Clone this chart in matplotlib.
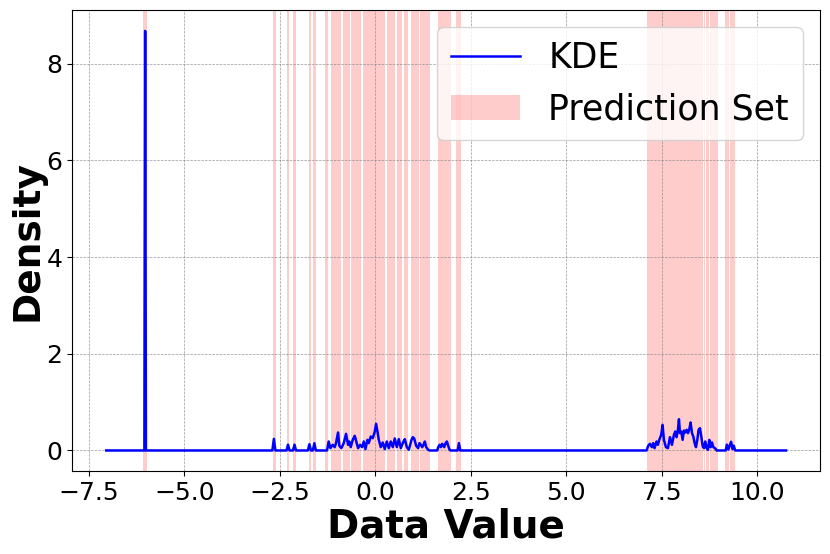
import numpy as np
import matplotlib
matplotlib.use("Agg")
import matplotlib.pyplot as plt

# KDE curve vertices
kde_x = [-7.05, -6.05, -6.03, -6.01,
         -2.70, -2.66, -2.62, -2.33, -2.29, -2.25, -2.16, -2.12, -2.08,
         -1.77, -1.73, -1.69, -1.64, -1.60, -1.56,
         -1.269, -1.225, -1.181, -1.120, -1.067, -1.033, -0.980, -0.945, -0.893,
         -0.831, -0.770, -0.718, -0.683, -0.648, -0.595, -0.543, -0.490, -0.455,
         -0.403, -0.351, -0.307, -0.263, -0.211, -0.176, -0.123, -0.071, -0.018,
         0.017, 0.052, 0.087, 0.139, 0.191, 0.244, 0.296, 0.349, 0.401, 0.454,
         0.506, 0.559, 0.611, 0.664, 0.733, 0.768, 0.821, 0.873, 0.908, 0.943,
         0.978, 1.013, 1.066, 1.118, 1.153, 1.188, 1.223, 1.258, 1.293, 1.328,
         1.380, 1.415, 1.616, 1.643, 1.678, 1.713, 1.747, 1.800, 1.835, 1.870,
         1.905, 1.940, 1.966, 2.150, 2.185, 2.220,
         7.098, 7.141, 7.185, 7.238, 7.273, 7.307, 7.360, 7.395, 7.430, 7.482,
         7.517, 7.552, 7.605, 7.657, 7.710, 7.762, 7.815, 7.850, 7.884, 7.919,
         7.946, 7.972, 8.007, 8.042, 8.077, 8.112, 8.147, 8.182, 8.217, 8.251,
         8.287, 8.322, 8.356, 8.391, 8.426, 8.461, 8.496, 8.531, 8.566, 8.601,
         8.636, 8.671, 8.706, 8.741, 8.776, 8.811, 8.846, 8.899, 8.933,
         9.17, 9.20, 9.24, 9.31, 9.35, 9.38, 9.42, 10.75]
kde_y = [0, 0, 8.68, 0,
         0, 0.24, 0, 0, 0.12, 0, 0, 0.12, 0,
         0, 0.13, 0, 0, 0.15, 0,
         0, 0.186, 0.048, 0.117, 0.069, 0.152, 0.372, 0.096, 0.048,
         0.152, 0.344, 0.117, 0.186, 0.069, 0.220, 0.303, 0.152, 0.048,
         0.117, 0.069, 0.186, 0.028, 0.220, 0.152, 0.289, 0.255, 0.393,
         0.551, 0.393, 0.220, 0.069, 0.165, 0.028, 0.186, 0.048, 0.186, 0.069,
         0.248, 0.069, 0.234, 0.048, 0.186, 0.234, 0.069, 0.014, 0.117, 0.220,
         0.275, 0.248, 0.096, 0.048, 0.152, 0.117, 0.069, 0.117, 0.186, 0.069,
         0.014, 0, 0, 0.069, 0.117, 0.069, 0.138, 0.069, 0.152, 0.186,
         0.096, 0.014, 0, 0, 0.152, 0,
         0, 0.096, 0.138, 0.069, 0.152, 0.048, 0.186, 0.117, 0.220, 0.324,
         0.530, 0.220, 0.069, 0.048, 0.275, 0.117, 0.324, 0.393, 0.275, 0.427,
         0.647, 0.358, 0.393, 0.220, 0.413, 0.372, 0.427, 0.358, 0.441, 0.579,
         0.358, 0.289, 0.152, 0.069, 0.220, 0.427, 0.461, 0.289, 0.096, 0.048,
         0.186, 0.048, 0.014, 0.220, 0.069, 0.165, 0.069, 0.041, 0,
         0, 0.12, 0.02, 0.18, 0.03, 0.10, 0, 0]

# prediction set intervals
pred_lo = [-6.09, -2.69, -2.32, -2.15, -1.75, -1.64, -1.33, -1.16, -0.85, -0.64,
           -0.33, 0.30, 0.56, 0.74, 0.93, 1.17, 1.63, 2.12,
           7.11, 8.59, 8.65, 8.75, 9.16, 9.29]
pred_hi = [-5.97, -2.61, -2.26, -2.09, -1.69, -1.55, -1.25, -0.90, -0.67, -0.38,
           0.26, 0.52, 0.70, 0.85, 1.14, 1.42, 1.97, 2.23,
           8.57, 8.63, 8.73, 8.96, 9.26, 9.42]

fig, ax = plt.subplots(figsize=(8.3, 5.54), dpi=100)
fig.subplots_adjust(left=0.087, right=0.988, top=0.982, bottom=0.149)

ax.plot(kde_x, kde_y, color='blue', linewidth=1.8, label='KDE')
for k, (a, b) in enumerate(zip(pred_lo, pred_hi)):
    ax.axvspan(a, b, color='red', alpha=0.2, linewidth=0,
               label='Prediction Set' if k == 0 else None)

ax.grid(True, linestyle='--', linewidth=0.5, color='gray', alpha=0.8)
ax.set_xlabel('Data Value', fontsize=28, fontweight='bold', labelpad=2)
ax.set_ylabel('Density', fontsize=27, fontweight='bold', labelpad=1)
ax.tick_params(labelsize=18)
ax.legend(loc='upper right', fontsize=25)

fig.savefig('out.png', dpi=100)
